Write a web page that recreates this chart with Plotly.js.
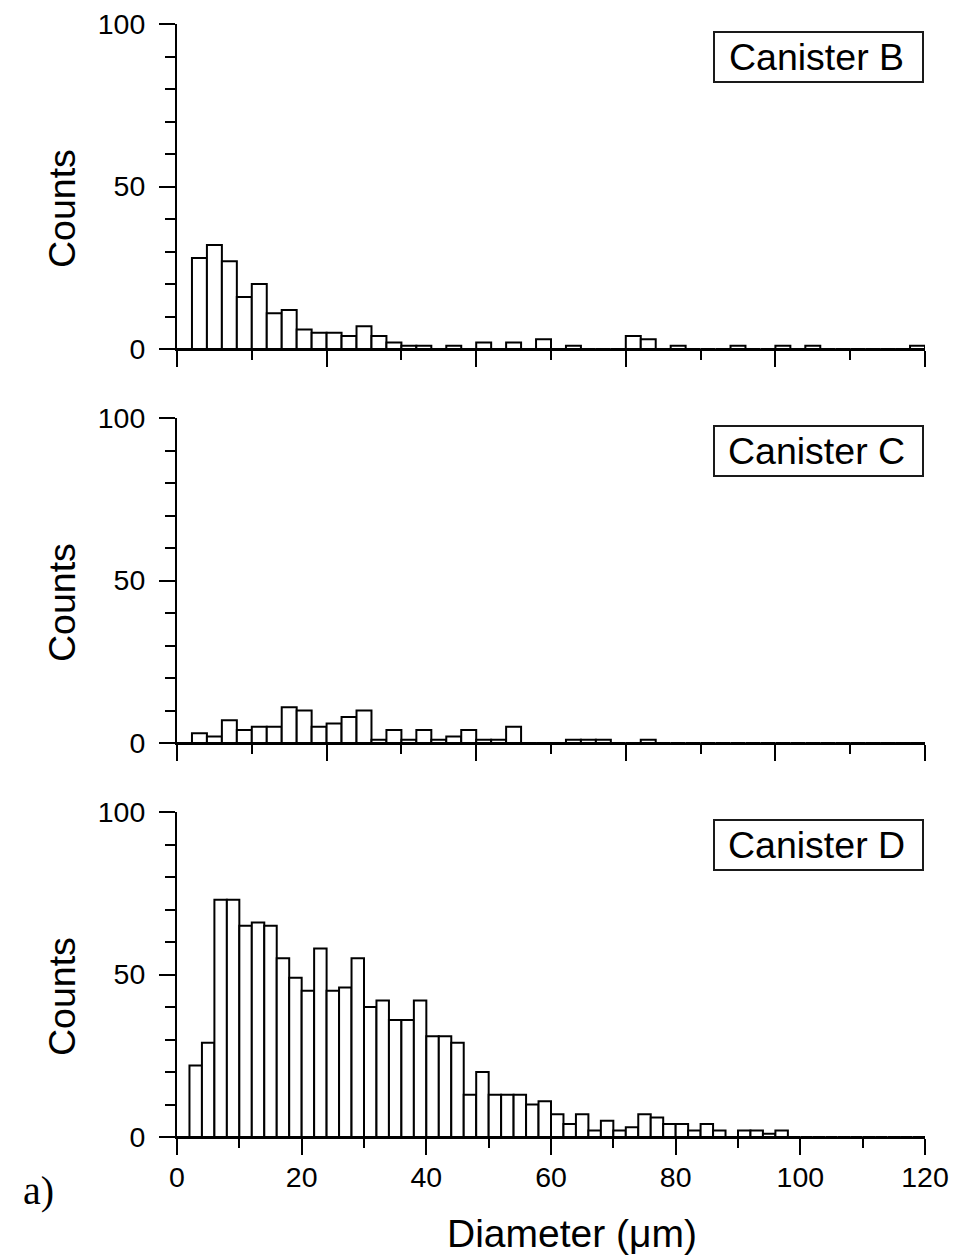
<!DOCTYPE html>
<html>
<head>
<meta charset="utf-8">
<script src="https://cdn.plot.ly/plotly-3.0.1.min.js"></script>
<style>
  html, body { margin: 0; padding: 0; background: #ffffff; }
  #chart { width: 955px; height: 1259px; }
</style>
</head>
<body>
<div id="chart"></div>
<script>
// Particle diameter histograms, one panel per canister.
const panelNames = ["Canister B", "Canister C", "Canister D"];

// Canisters B and C: 2.4 µm bins starting at 0
const binWidthBC = 2.4;
const countsB = [0, 28, 32, 27, 16, 20, 11, 12, 6, 5,
                 5, 4, 7, 4, 2, 1, 1, 0, 1, 0,
                 2, 0, 2, 0, 3, 0, 1, 0, 0, 0,
                 4, 3, 0, 1, 0, 0, 0, 1, 0, 0,
                 1, 0, 1, 0, 0, 0, 0, 0, 0, 1];
const countsC = [0, 3, 2, 7, 4, 5, 5, 11, 10, 5,
                 6, 8, 10, 1, 4, 1, 4, 1, 2, 4,
                 1, 1, 5, 0, 0, 0, 1, 1, 1, 0,
                 0, 1, 0, 0, 0, 0, 0, 0, 0, 0,
                 0, 0, 0, 0, 0, 0, 0, 0, 0, 0];

// Canister D: 2 µm bins starting at 0
const binWidthD = 2;
const countsD = [0, 22, 29, 73, 73, 65, 66, 65, 55, 49,
                 45, 58, 45, 46, 55, 40, 42, 36, 36, 42,
                 31, 31, 29, 13, 20, 13, 13, 13, 10, 11,
                 7, 4, 7, 2, 5, 2, 3, 7, 6, 4,
                 4, 2, 4, 2, 0, 2, 2, 1, 2, 0,
                 0, 0, 0, 0, 0, 0, 0, 0, 0, 0];

const yTickVals = [0, 50, 100];
const xTickLabels = ["0", "20", "40", "60", "80", "100", "120"];
const xTitle = "Diameter (\u03bcm)";
const yTitle = "Counts";
const panelTag = "a)";

// Figure geometry (pixels)
const W = 955, H = 1259;
const M = {l: 177, r: 30, t: 24, b: 122};
const plotW = W - M.l - M.r, plotH = H - M.t - M.b;
const px2x = px => (px - M.l) / plotW;
const px2y = py => (H - M.b - py) / plotH;

const panelH = 325, gap = 69;
function domainFor(i) {          // i = 0 top .. 2 bottom
  const top = M.t + i * (panelH + gap);
  return [px2y(top + panelH), px2y(top)];
}

function centers(n, w) {
  const out = [];
  for (let i = 0; i < n; i++) out.push((i + 0.5) * w);
  return out;
}

const barStyle = {color: "#ffffff", line: {color: "#000000", width: 2}};
const series = [
  {counts: countsB, w: binWidthBC},
  {counts: countsC, w: binWidthBC},
  {counts: countsD, w: binWidthD}
];

const traces = series.map((s, i) => ({
  type: "bar",
  x: centers(s.counts.length, s.w),
  y: s.counts,
  width: s.w,
  marker: barStyle,
  xaxis: i === 0 ? "x" : "x" + (i + 1),
  yaxis: i === 0 ? "y" : "y" + (i + 1),
  hoverinfo: "x+y",
  showlegend: false
}));

const sans = "Liberation Sans, Arial, sans-serif";
const tickFont = {family: sans, size: 28.5, color: "#000000"};
const textFont = {family: sans, size: 37.5, color: "#000000"};

const layout = {
  width: W, height: H,
  margin: M,
  paper_bgcolor: "#ffffff",
  plot_bgcolor: "#ffffff",
  bargap: 0,
  showlegend: false,
  shapes: [],
  annotations: []
};

for (let i = 0; i < 3; i++) {
  const sx = i === 0 ? "" : String(i + 1);
  const bottom = i === 2;
  layout["xaxis" + sx] = {
    anchor: "y" + sx,
    domain: [0, 1],
    range: [0, 120],
    showline: true, linecolor: "#000000", linewidth: 2,
    showgrid: false, zeroline: false,
    ticks: "outside", ticklen: 16, tickwidth: 2, tickcolor: "#000000",
    tickmode: "linear", tick0: 0, dtick: bottom ? 20 : 24,
    minor: {ticks: "outside", ticklen: 9, tickwidth: 2, tickcolor: "#000000",
            dtick: bottom ? 10 : 12, tick0: 0, showgrid: false},
    showticklabels: bottom,
    tickfont: tickFont,
    ticklabelstandoff: -2,
    fixedrange: true
  };
  if (bottom) {
    layout["xaxis" + sx].tickmode = "array";
    layout["xaxis" + sx].tickvals = xTickLabels.map(Number);
    layout["xaxis" + sx].ticktext = xTickLabels;
  }
  layout["yaxis" + sx] = {
    anchor: "x" + sx,
    domain: domainFor(i),
    range: [0, 100],
    showline: true, linecolor: "#000000", linewidth: 2,
    showgrid: false, zeroline: false,
    ticks: "outside", ticklen: 16, tickwidth: 2, tickcolor: "#000000",
    tickmode: "array", tickvals: yTickVals, ticktext: yTickVals.map(String),
    minor: {ticks: "outside", ticklen: 10, tickwidth: 2, tickcolor: "#000000",
            dtick: 10, tick0: 0, showgrid: false},
    tickfont: tickFont,
    ticklabelstandoff: 8,
    fixedrange: true
  };

  // Panel label box
  const top = M.t + i * (panelH + gap);
  const bx0 = 714, bx1 = 923, by0 = top + 8, by1 = top + 58;
  layout.shapes.push({
    type: "rect", xref: "paper", yref: "paper",
    x0: px2x(bx0), x1: px2x(bx1), y0: px2y(by1), y1: px2y(by0),
    line: {color: "#1a1a1a", width: 2}, fillcolor: "#ffffff", layer: "above"
  });
  layout.annotations.push({
    xref: "paper", yref: "paper",
    x: px2x(816), y: px2y((by0 + by1) / 2),
    xanchor: "center", yanchor: "middle",
    text: panelNames[i], showarrow: false, font: textFont
  });

  // Vertical axis title
  layout.annotations.push({
    xref: "paper", yref: "paper",
    x: px2x(62), y: px2y(top + 185),
    xanchor: "center", yanchor: "middle",
    text: yTitle, textangle: -90, showarrow: false, font: textFont
  });
}

layout.annotations.push({
  xref: "paper", yref: "paper",
  x: px2x(572), y: px2y(1233),
  xanchor: "center", yanchor: "middle",
  text: xTitle, showarrow: false, font: {family: sans, size: 39, color: "#000000"}
});
layout.annotations.push({
  xref: "paper", yref: "paper",
  x: px2x(38), y: px2y(1190),
  xanchor: "center", yanchor: "middle",
  text: panelTag, showarrow: false,
  font: {family: "Liberation Serif, Times New Roman, serif", size: 40, color: "#000000"}
});

Plotly.newPlot("chart", traces, layout, {displayModeBar: false, staticPlot: true});
</script>
</body>
</html>
